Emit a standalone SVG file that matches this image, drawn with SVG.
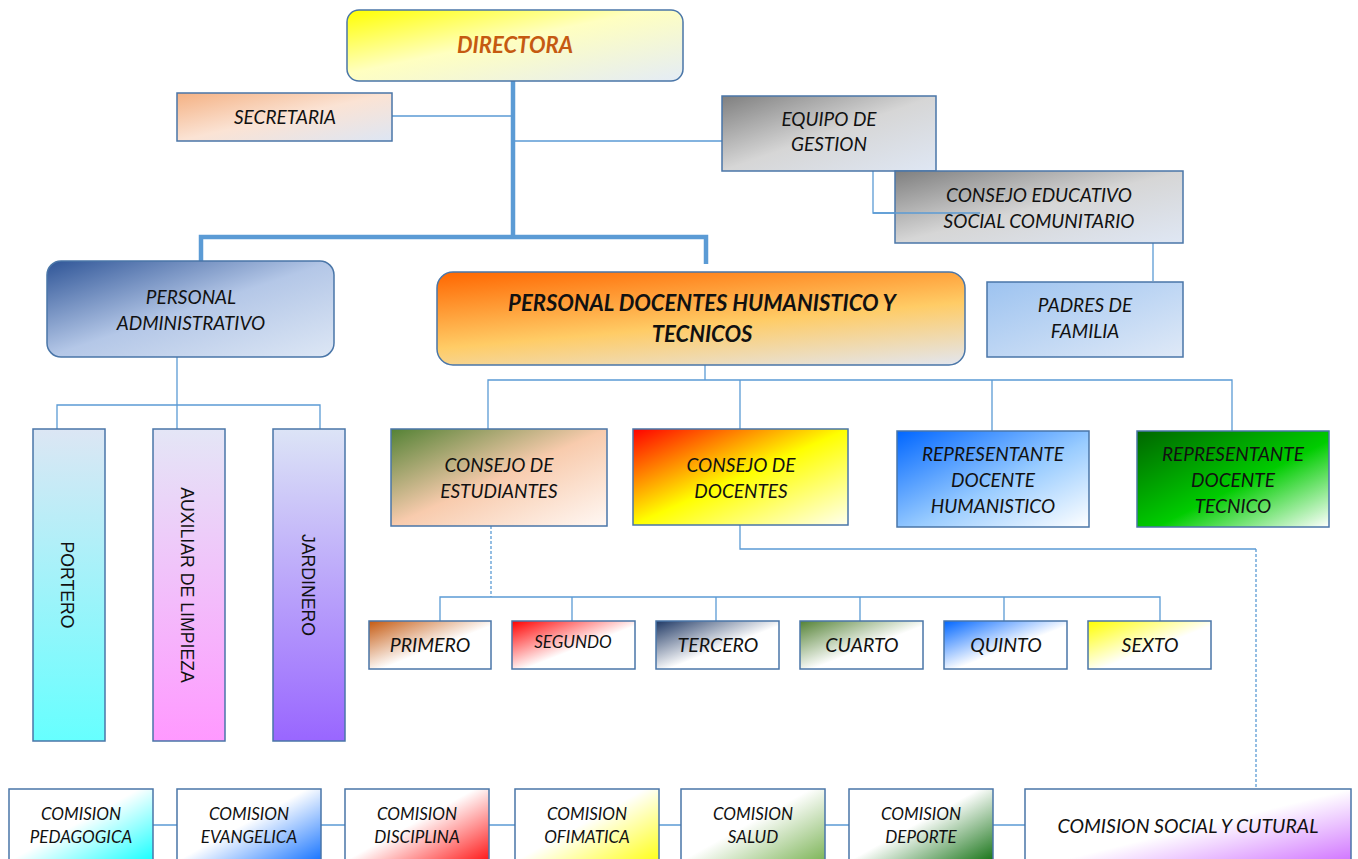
<svg xmlns="http://www.w3.org/2000/svg" width="1358" height="859" viewBox="0 0 1358 859">
<defs>
<style>
.box{stroke:#4a76a8;stroke-width:1.5}
.t{font-family:Lato,"Open Sans","Liberation Sans",sans-serif;font-style:italic;fill:#111;text-anchor:middle}
.b{font-weight:bold}
.v{font-family:"Liberation Sans",Arial,sans-serif;font-size:17.7px;fill:#111;text-anchor:middle}
.c{fill:none;stroke:#5b9bd5;stroke-width:1.3}
.thick{fill:none;stroke:#5b9bd5;stroke-width:4.5}
.dash{fill:none;stroke:#5b9bd5;stroke-width:1.3;stroke-dasharray:3 2}
</style>
<linearGradient id="gDir" x1="0" y1="0" x2="1" y2="1"><stop offset="0" stop-color="#ffff00"/><stop offset="0.45" stop-color="#ffffc0"/><stop offset="1" stop-color="#e4ecf6"/></linearGradient>
<linearGradient id="gSec" x1="0" y1="0" x2="1" y2="1"><stop offset="0" stop-color="#f4b183"/><stop offset="0.5" stop-color="#fbe3d4"/><stop offset="1" stop-color="#dde6f4"/></linearGradient>
<linearGradient id="gGray" x1="0" y1="0" x2="1" y2="1"><stop offset="0" stop-color="#7f7f7f"/><stop offset="0.5" stop-color="#d6d6d6"/><stop offset="1" stop-color="#dfe7f4"/></linearGradient>
<linearGradient id="gPad" x1="0" y1="0" x2="1" y2="1"><stop offset="0" stop-color="#9dc3f0"/><stop offset="1" stop-color="#dfe9f7"/></linearGradient>
<linearGradient id="gAdm" x1="0" y1="0" x2="1" y2="1"><stop offset="0" stop-color="#2f5597"/><stop offset="0.5" stop-color="#b4c7e7"/><stop offset="1" stop-color="#dde7f5"/></linearGradient>
<linearGradient id="gDoc" x1="0" y1="0" x2="0.6" y2="1.2"><stop offset="0" stop-color="#ff6600"/><stop offset="0.55" stop-color="#ffcc66"/><stop offset="1" stop-color="#e2e6f0"/></linearGradient>
<linearGradient id="gPort" x1="0" y1="0" x2="0" y2="1"><stop offset="0" stop-color="#dce6f4"/><stop offset="1" stop-color="#66ffff"/></linearGradient>
<linearGradient id="gAux" x1="0" y1="0" x2="0" y2="1"><stop offset="0" stop-color="#e4e6f6"/><stop offset="1" stop-color="#ff99ff"/></linearGradient>
<linearGradient id="gJar" x1="0" y1="0" x2="0" y2="1"><stop offset="0" stop-color="#dce4f6"/><stop offset="1" stop-color="#9966ff"/></linearGradient>
<linearGradient id="gCE" x1="0" y1="0" x2="1" y2="1"><stop offset="0" stop-color="#548235"/><stop offset="0.5" stop-color="#f8cbad"/><stop offset="1" stop-color="#fff8f4"/></linearGradient>
<linearGradient id="gCD" x1="0" y1="0" x2="1" y2="1"><stop offset="0" stop-color="#ff0000"/><stop offset="0.5" stop-color="#ffff00"/><stop offset="1" stop-color="#ffffee"/></linearGradient>
<linearGradient id="gRH" x1="0" y1="0" x2="1" y2="1"><stop offset="0" stop-color="#0066ff"/><stop offset="0.55" stop-color="#99ccff"/><stop offset="1" stop-color="#ffffff"/></linearGradient>
<linearGradient id="gRT" x1="0" y1="0" x2="1" y2="1"><stop offset="0" stop-color="#006600"/><stop offset="0.55" stop-color="#00cc00"/><stop offset="1" stop-color="#ffffff"/></linearGradient>
<linearGradient id="g1" x1="0" y1="0" x2="1" y2="1"><stop offset="0" stop-color="#c55a11"/><stop offset="0.55" stop-color="#ffffff"/></linearGradient>
<linearGradient id="g2" x1="0" y1="0" x2="1" y2="1"><stop offset="0" stop-color="#ff0000"/><stop offset="0.55" stop-color="#ffffff"/></linearGradient>
<linearGradient id="g3" x1="0" y1="0" x2="1" y2="1"><stop offset="0" stop-color="#1f3864"/><stop offset="0.55" stop-color="#ffffff"/></linearGradient>
<linearGradient id="g4" x1="0" y1="0" x2="1" y2="1"><stop offset="0" stop-color="#548235"/><stop offset="0.55" stop-color="#ffffff"/></linearGradient>
<linearGradient id="g5" x1="0" y1="0" x2="1" y2="1"><stop offset="0" stop-color="#0066ff"/><stop offset="0.55" stop-color="#ffffff"/></linearGradient>
<linearGradient id="g6" x1="0" y1="0" x2="1" y2="1"><stop offset="0" stop-color="#ffff00"/><stop offset="0.55" stop-color="#ffffff"/></linearGradient>
<linearGradient id="k1" x1="0" y1="0" x2="1" y2="1"><stop offset="0.45" stop-color="#ffffff"/><stop offset="1" stop-color="#00ffff"/></linearGradient>
<linearGradient id="k2" x1="0" y1="0" x2="1" y2="1"><stop offset="0.45" stop-color="#ffffff"/><stop offset="1" stop-color="#0066ff"/></linearGradient>
<linearGradient id="k3" x1="0" y1="0" x2="1" y2="1"><stop offset="0.45" stop-color="#ffffff"/><stop offset="1" stop-color="#ff0000"/></linearGradient>
<linearGradient id="k4" x1="0" y1="0" x2="1" y2="1"><stop offset="0.45" stop-color="#ffffff"/><stop offset="1" stop-color="#ffff00"/></linearGradient>
<linearGradient id="k5" x1="0" y1="0" x2="1" y2="1"><stop offset="0.45" stop-color="#ffffff"/><stop offset="1" stop-color="#70ad47"/></linearGradient>
<linearGradient id="k6" x1="0" y1="0" x2="1" y2="1"><stop offset="0.45" stop-color="#ffffff"/><stop offset="1" stop-color="#006600"/></linearGradient>
<linearGradient id="k7" x1="0" y1="0" x2="1" y2="1"><stop offset="0.5" stop-color="#ffffff"/><stop offset="1" stop-color="#cc66ff"/></linearGradient>
</defs>
<rect width="1358" height="859" fill="#ffffff"/>

<g id="connectors">
<path class="thick" d="M513,81 V237 M201,262 V237 H706 V264"/>
<path class="c" d="M392,116 H513 M513,141 H722"/>
<path class="c" d="M873,171 V213 H980 M1153,241 V281"/>
<path class="c" d="M177,357 V405 M57,430 V405 H320 V430 M177,405 V430"/>
<path class="c" d="M705,365 V380 M488,430 V380 H1232 V431 M740,380 V430 M992,380 V431"/>
<path class="dash" d="M491,526 V597"/>
<path class="c" d="M440,621 V597 H1160 V621 M572,597 V621 M716,597 V621 M860,597 V621 M1004,597 V621"/>
<path class="c" d="M740,525 V549 H1256"/>
<path class="dash" d="M1256,549 V789"/>
<path class="c" d="M153,825 H177 M321,825 H345 M489,825 H515 M659,825 H681 M825,825 H849 M993,825 H1025"/>
</g>

<g id="directora"><rect class="box" x="347" y="10" width="336" height="71" rx="12" fill="url(#gDir)"/><text class="t b" x="515" y="53" font-size="22" style="fill:#c55a11">DIRECTORA</text></g>
<g id="secretaria"><rect class="box" x="177" y="93" width="215" height="48" fill="url(#gSec)"/><text class="t" x="285" y="124" font-size="19">SECRETARIA</text></g>
<g id="equipo"><rect class="box" x="722" y="96" width="214" height="75" fill="url(#gGray)"/><text class="t" x="829" y="126" font-size="19">EQUIPO DE</text><text class="t" x="829" y="151" font-size="19">GESTION</text></g>
<g id="consejo-educativo"><rect class="box" x="895" y="171" width="288" height="72" fill="url(#gGray)"/><text class="t" x="1039" y="202" font-size="19">CONSEJO EDUCATIVO</text><text class="t" x="1039" y="228" font-size="19">SOCIAL COMUNITARIO</text></g>
<path class="c" d="M873,213 H980"/>
<g id="padres"><rect class="box" x="987" y="282" width="196" height="75" fill="url(#gPad)"/><text class="t" x="1085" y="312" font-size="19">PADRES DE</text><text class="t" x="1085" y="338" font-size="19">FAMILIA</text></g>
<g id="personal-admin"><rect class="box" x="47" y="261" width="287" height="96" rx="14" fill="url(#gAdm)"/><text class="t" x="191" y="304" font-size="19">PERSONAL</text><text class="t" x="191" y="330" font-size="19">ADMINISTRATIVO</text></g>
<g id="personal-docentes"><rect class="box" x="437" y="272" width="528" height="93" rx="16" fill="url(#gDoc)"/><text class="t b" x="702" y="311" font-size="22">PERSONAL DOCENTES HUMANISTICO Y</text><text class="t b" x="702" y="342" font-size="22">TECNICOS</text></g>

<g id="portero"><rect class="box" x="33" y="429" width="72" height="312" fill="url(#gPort)"/><text class="v" transform="translate(61,585) rotate(90)">PORTERO</text></g>
<g id="auxiliar"><rect class="box" x="153" y="429" width="72" height="312" fill="url(#gAux)"/><text class="v" transform="translate(181,585) rotate(90)">AUXILIAR DE LIMPIEZA</text></g>
<g id="jardinero"><rect class="box" x="273" y="429" width="72" height="312" fill="url(#gJar)"/><text class="v" transform="translate(302,585) rotate(90)">JARDINERO</text></g>

<g id="consejo-estudiantes"><rect class="box" x="391" y="429" width="216" height="97" fill="url(#gCE)"/><text class="t" x="499" y="472" font-size="19">CONSEJO DE</text><text class="t" x="499" y="498" font-size="19">ESTUDIANTES</text></g>
<g id="consejo-docentes"><rect class="box" x="633" y="429" width="215" height="96" fill="url(#gCD)"/><text class="t" x="741" y="472" font-size="19">CONSEJO DE</text><text class="t" x="741" y="498" font-size="19">DOCENTES</text></g>
<g id="rep-humanistico"><rect class="box" x="897" y="431" width="192" height="96" fill="url(#gRH)"/><text class="t" x="993" y="461" font-size="19">REPRESENTANTE</text><text class="t" x="993" y="487" font-size="19">DOCENTE</text><text class="t" x="993" y="513" font-size="19">HUMANISTICO</text></g>
<g id="rep-tecnico"><rect class="box" x="1137" y="431" width="192" height="96" fill="url(#gRT)"/><text class="t" x="1233" y="461" font-size="19">REPRESENTANTE</text><text class="t" x="1233" y="487" font-size="19">DOCENTE</text><text class="t" x="1233" y="513" font-size="19">TECNICO</text></g>

<g id="primero"><rect class="box" x="369" y="621" width="122" height="48" fill="url(#g1)"/><text class="t" x="430" y="652" font-size="19.5">PRIMERO</text></g>
<g id="segundo"><rect class="box" x="512" y="621" width="123" height="48" fill="url(#g2)"/><text class="t" x="573" y="648" font-size="17">SEGUNDO</text></g>
<g id="tercero"><rect class="box" x="656" y="621" width="123" height="48" fill="url(#g3)"/><text class="t" x="718" y="652" font-size="19.5">TERCERO</text></g>
<g id="cuarto"><rect class="box" x="800" y="621" width="123" height="48" fill="url(#g4)"/><text class="t" x="862" y="652" font-size="19.5">CUARTO</text></g>
<g id="quinto"><rect class="box" x="944" y="621" width="123" height="48" fill="url(#g5)"/><text class="t" x="1006" y="652" font-size="19.5">QUINTO</text></g>
<g id="sexto"><rect class="box" x="1088" y="621" width="123" height="48" fill="url(#g6)"/><text class="t" x="1150" y="652" font-size="19.5">SEXTO</text></g>

<g id="com-pedagogica"><rect class="box" x="9" y="789" width="144" height="80" fill="url(#k1)"/><text class="t" x="81" y="820" font-size="17">COMISION</text><text class="t" x="81" y="843" font-size="17">PEDAGOGICA</text></g>
<g id="com-evangelica"><rect class="box" x="177" y="789" width="144" height="80" fill="url(#k2)"/><text class="t" x="249" y="820" font-size="17">COMISION</text><text class="t" x="249" y="843" font-size="17">EVANGELICA</text></g>
<g id="com-disciplina"><rect class="box" x="345" y="789" width="144" height="80" fill="url(#k3)"/><text class="t" x="417" y="820" font-size="17">COMISION</text><text class="t" x="417" y="843" font-size="17">DISCIPLINA</text></g>
<g id="com-ofimatica"><rect class="box" x="515" y="789" width="144" height="80" fill="url(#k4)"/><text class="t" x="587" y="820" font-size="17">COMISION</text><text class="t" x="587" y="843" font-size="17">OFIMATICA</text></g>
<g id="com-salud"><rect class="box" x="681" y="789" width="144" height="80" fill="url(#k5)"/><text class="t" x="753" y="820" font-size="17">COMISION</text><text class="t" x="753" y="843" font-size="17">SALUD</text></g>
<g id="com-deporte"><rect class="box" x="849" y="789" width="144" height="80" fill="url(#k6)"/><text class="t" x="921" y="820" font-size="17">COMISION</text><text class="t" x="921" y="843" font-size="17">DEPORTE</text></g>
<g id="com-social"><rect class="box" x="1025" y="789" width="326" height="80" fill="url(#k7)"/><text class="t" x="1188" y="833" font-size="19.5">COMISION SOCIAL Y CUTURAL</text></g>
</svg>
